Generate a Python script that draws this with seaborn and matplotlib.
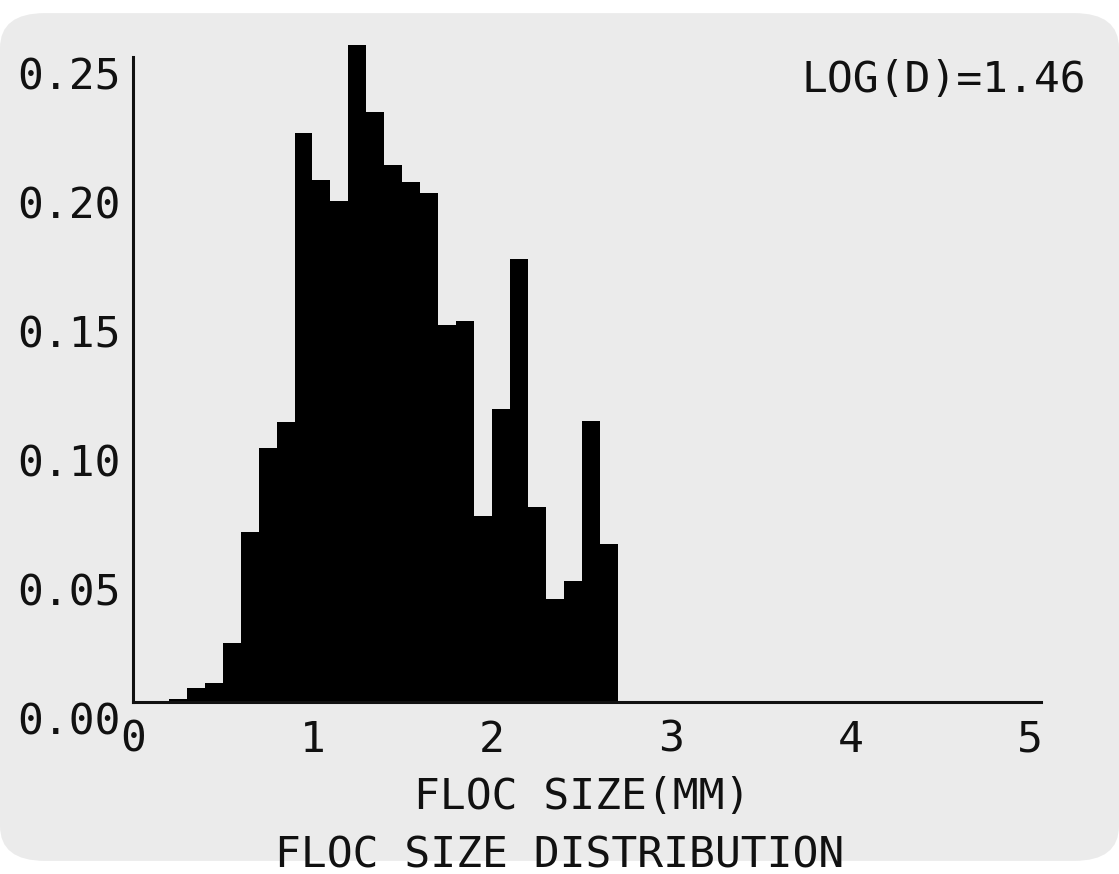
import numpy as np
import pandas as pd
import seaborn as sns
import matplotlib.pyplot as plt
from matplotlib.patches import FancyBboxPatch

# histogram values, 0.1 mm bins starting at 0.2 mm
bin_start = 0.2
bin_width = 0.1
fractions = [0.001, 0.0055, 0.0072, 0.023, 0.0657, 0.0983, 0.1084,
             0.2206, 0.2022, 0.1943, 0.2546, 0.2287, 0.2082, 0.2015,
             0.1972, 0.1461, 0.1478, 0.0720, 0.1136, 0.1717, 0.0757,
             0.0399, 0.0469, 0.1089, 0.0611]
x_ticks = [0, 1, 2, 3, 4, 5]
y_ticks = [0.00, 0.05, 0.10, 0.15, 0.20, 0.25]
y_ticklabels = ['0.00', '0.05', '0.10', '0.15', '0.20', '0.25']
annotation = 'LOG(D)=1.46'
xlabel = 'FLOC SIZE(MM)'
title = 'FLOC SIZE DISTRIBUTION'

edges = bin_start + bin_width * np.arange(len(fractions) + 1)
df = pd.DataFrame({'size': (edges[:-1] + edges[1:]) / 2, 'frac': fractions})

sns.set_style('white')
plt.rcParams['font.family'] = ['DejaVu Sans Mono']
ink = '#111111'
fs = 31

fig = plt.figure(figsize=(11.19, 8.74), dpi=100, facecolor='white')
# light grey screen area with rounded corners
fig.patches.append(FancyBboxPatch((0.0, 0.015), 1.0, 0.97,
                                  boxstyle='round,pad=0,rounding_size=0.04',
                                  transform=fig.transFigure, fc='#ebebeb',
                                  ec='none', zorder=-10))

ax = fig.add_axes([0.1189, 0.1968, 0.8114, 0.7380])
ax.patch.set_alpha(0)

sns.histplot(data=df, x='size', weights='frac', bins=edges.tolist(),
             color='black', edgecolor='black', linewidth=0, alpha=1, ax=ax)
for p in ax.patches:
    p.set_clip_on(False)

ax.set_xlim(0, 5.06)
ax.set_ylim(0, 0.25)
ax.set_xticks(x_ticks)
ax.set_yticks(y_ticks)
ax.set_yticklabels(y_ticklabels)
ax.set_xlabel('')
ax.set_ylabel('')
ax.tick_params(length=0, labelsize=fs, colors=ink)
ax.tick_params(axis='y', pad=9)
ax.tick_params(axis='x', pad=12)
for t in ax.yaxis.get_major_ticks():
    t.label1.set_verticalalignment('top')

for s in ['top', 'right']:
    ax.spines[s].set_visible(False)
for s in ['left', 'bottom']:
    ax.spines[s].set_color(ink)
    ax.spines[s].set_linewidth(2.2)

fig.text(944 / 1119, 1 - 80 / 874, annotation, ha='center', va='center',
         fontsize=fs, color=ink)
fig.text(582 / 1119, 1 - 797 / 874, xlabel, ha='center', va='center',
         fontsize=fs, color=ink)
fig.text(560 / 1119, 1 - 855 / 874, title, ha='center', va='center',
         fontsize=fs, color=ink)

fig.savefig('out.png', dpi=100, facecolor=fig.get_facecolor())
